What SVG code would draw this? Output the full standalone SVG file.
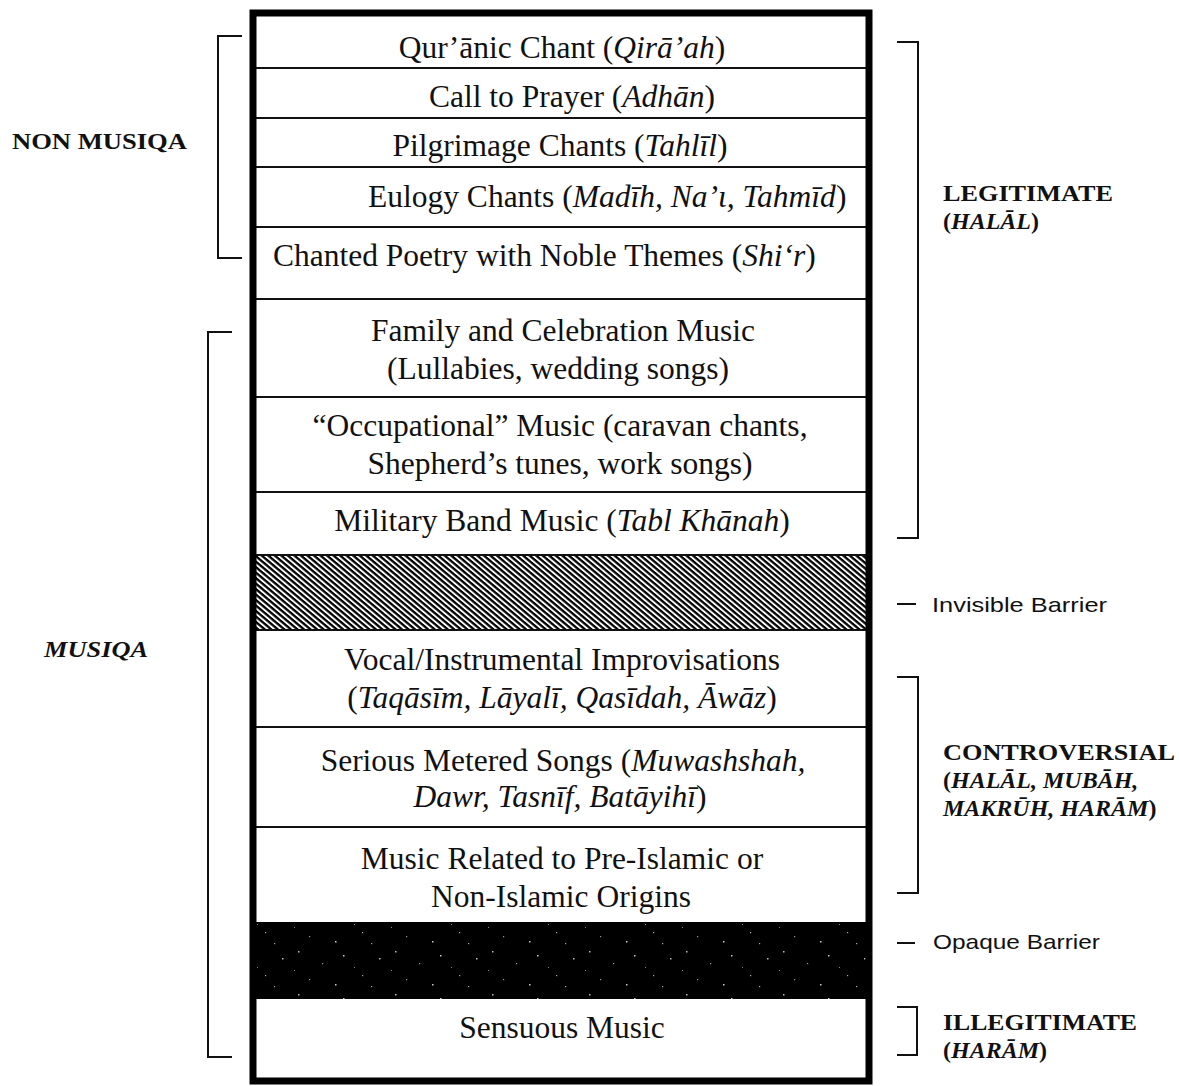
<svg xmlns="http://www.w3.org/2000/svg" width="1179" height="1086" viewBox="0 0 1179 1086">
<style>
  .t { font-family: "Liberation Serif", "Times New Roman", serif; font-size: 31.5px; fill: #111; text-anchor: middle; }
  .ts { font-family: "Liberation Serif", "Times New Roman", serif; font-size: 31.5px; fill: #111; }
  .i { font-style: italic; }
  .lbl { font-family: "Liberation Serif", "Times New Roman", serif; font-size: 24px; font-weight: bold; fill: #111; }
  .bar { font-family: "Liberation Sans", Arial, sans-serif; font-size: 21px; fill: #111; }
  .div { stroke: #111; stroke-width: 2.2; }
  .br { fill: none; stroke: #111; stroke-width: 2; }
</style>
<defs>
  <pattern id="hatch" width="4.2" height="4.2" patternUnits="userSpaceOnUse" patternTransform="rotate(40)">
    <rect width="4.2" height="4.2" fill="#fff"/>
    <rect width="4.2" height="2.3" fill="#000"/>
  </pattern>
  <pattern id="speck" width="97" height="43" patternUnits="userSpaceOnUse">
    <rect width="97" height="43" fill="#000"/>
    <rect x="7" y="5" width="1.5" height="1.5" fill="#bbb"/>
    <rect x="31" y="17" width="1.2" height="1.2" fill="#999"/>
    <rect x="52" y="9" width="1.5" height="1.5" fill="#ccc"/>
    <rect x="71" y="29" width="1.2" height="1.2" fill="#aaa"/>
    <rect x="88" y="12" width="1.5" height="1.5" fill="#bbb"/>
    <rect x="18" y="33" width="1.2" height="1.2" fill="#999"/>
    <rect x="44" y="38" width="1.5" height="1.5" fill="#ccc"/>
    <rect x="63" y="21" width="1" height="1" fill="#888"/>
    <rect x="80" y="40" width="1.2" height="1.2" fill="#aaa"/>
    <rect x="3" y="24" width="1" height="1" fill="#888"/>
  </pattern>
</defs>

<!-- bands -->
<g id="barrier-invisible"><rect x="253" y="555" width="616" height="75" fill="url(#hatch)"/></g>
<g id="barrier-opaque"><rect x="253" y="922" width="616" height="77" fill="url(#speck)"/></g>

<!-- row dividers -->
<g id="dividers">
  <line class="div" x1="253" y1="68" x2="869" y2="68"/>
  <line class="div" x1="253" y1="118" x2="869" y2="118"/>
  <line class="div" x1="253" y1="167" x2="869" y2="167"/>
  <line class="div" x1="253" y1="227" x2="869" y2="227"/>
  <line class="div" x1="253" y1="299" x2="869" y2="299"/>
  <line class="div" x1="253" y1="397" x2="869" y2="397"/>
  <line class="div" x1="253" y1="492" x2="869" y2="492"/>
  <line class="div" x1="253" y1="555" x2="869" y2="555"/>
  <line class="div" x1="253" y1="630" x2="869" y2="630"/>
  <line class="div" x1="253" y1="727" x2="869" y2="727"/>
  <line class="div" x1="253" y1="827" x2="869" y2="827"/>
</g>

<!-- outer box -->
<rect id="frame" x="253" y="13" width="616" height="1068" fill="none" stroke="#000" stroke-width="7"/>

<!-- rows -->
<g id="row-quranic"><text class="t" x="562" y="58">Qur’ānic Chant (<tspan class="i">Qirā’ah</tspan>)</text></g>
<g id="row-adhan"><text class="t" x="572" y="107">Call to Prayer (<tspan class="i">Adhān</tspan>)</text></g>
<g id="row-tahlil"><text class="t" x="560" y="156">Pilgrimage Chants (<tspan class="i">Tahlīl</tspan>)</text></g>
<g id="row-eulogy"><text class="ts" x="368" y="207">Eulogy Chants (<tspan class="i">Madīh, Na’ι, Tahmīd</tspan>)</text></g>
<g id="row-shir"><text class="ts" x="273" y="266">Chanted Poetry with Noble Themes (<tspan class="i">Shi‘r</tspan>)</text></g>
<g id="row-family"><text class="t" x="563" y="341">Family and Celebration Music</text><text class="t" x="558" y="379">(Lullabies, wedding songs)</text></g>
<g id="row-occupational"><text class="t" x="560" y="436">“Occupational” Music (caravan chants,</text><text class="t" x="560" y="474">Shepherd’s tunes, work songs)</text></g>
<g id="row-military"><text class="t" x="562" y="531">Military Band Music (<tspan class="i">Tabl Khānah</tspan>)</text></g>
<g id="row-improv"><text class="t" x="562" y="670">Vocal/Instrumental Improvisations</text><text class="t" x="562" y="708">(<tspan class="i">Taqāsīm, Lāyalī, Qasīdah, Āwāz</tspan>)</text></g>
<g id="row-metered"><text class="t" x="563" y="771">Serious Metered Songs (<tspan class="i">Muwashshah,</tspan></text><text class="t" x="560" y="807"><tspan class="i">Dawr, Tasnīf, Batāyihī</tspan>)</text></g>
<g id="row-preislamic"><text class="t" x="562" y="869">Music Related to Pre-Islamic or</text><text class="t" x="561" y="907">Non-Islamic Origins</text></g>
<g id="row-sensuous"><text class="t" x="562" y="1038">Sensuous Music</text></g>

<!-- brackets -->
<g id="connectors">
  <path class="br" d="M242 36 H218 V258 H242"/>
  <path class="br" d="M232 332 H208 V1057 H232"/>
  <path class="br" d="M897 42 H918 V538 H897"/>
  <line class="br" x1="897" y1="604" x2="916" y2="604"/>
  <path class="br" d="M897 677 H918 V893 H897"/>
  <line class="br" x1="897" y1="943" x2="915" y2="943"/>
  <path class="br" d="M897 1007 H917 V1055 H897"/>
</g>

<!-- side labels -->
<g id="label-nonmusiqa"><text class="lbl" x="12" y="149" textLength="175" lengthAdjust="spacingAndGlyphs">NON MUSIQA</text></g>
<g id="label-musiqa"><text class="lbl i" x="44" y="657" textLength="104" lengthAdjust="spacingAndGlyphs">MUSIQA</text></g>
<g id="label-legitimate"><text class="lbl" x="943" y="201" textLength="170" lengthAdjust="spacingAndGlyphs">LEGITIMATE</text><text class="lbl" x="943" y="229">(<tspan class="i">HALĀL</tspan>)</text></g>
<g id="label-invisible"><text class="bar" x="932" y="612" textLength="175" lengthAdjust="spacingAndGlyphs">Invisible Barrier</text></g>
<g id="label-controversial"><text class="lbl" x="943" y="760" textLength="232" lengthAdjust="spacingAndGlyphs">CONTROVERSIAL</text><text class="lbl" x="943" y="788">(<tspan class="i">HALĀL, MUBĀH,</tspan></text><text class="lbl i" x="943" y="816">MAKRŪH, HARĀM<tspan font-style="normal">)</tspan></text></g>
<g id="label-opaque"><text class="bar" x="933" y="949" textLength="167" lengthAdjust="spacingAndGlyphs">Opaque Barrier</text></g>
<g id="label-illegitimate"><text class="lbl" x="943" y="1030" textLength="194" lengthAdjust="spacingAndGlyphs">ILLEGITIMATE</text><text class="lbl" x="943" y="1058">(<tspan class="i">HARĀM</tspan>)</text></g>
</svg>
